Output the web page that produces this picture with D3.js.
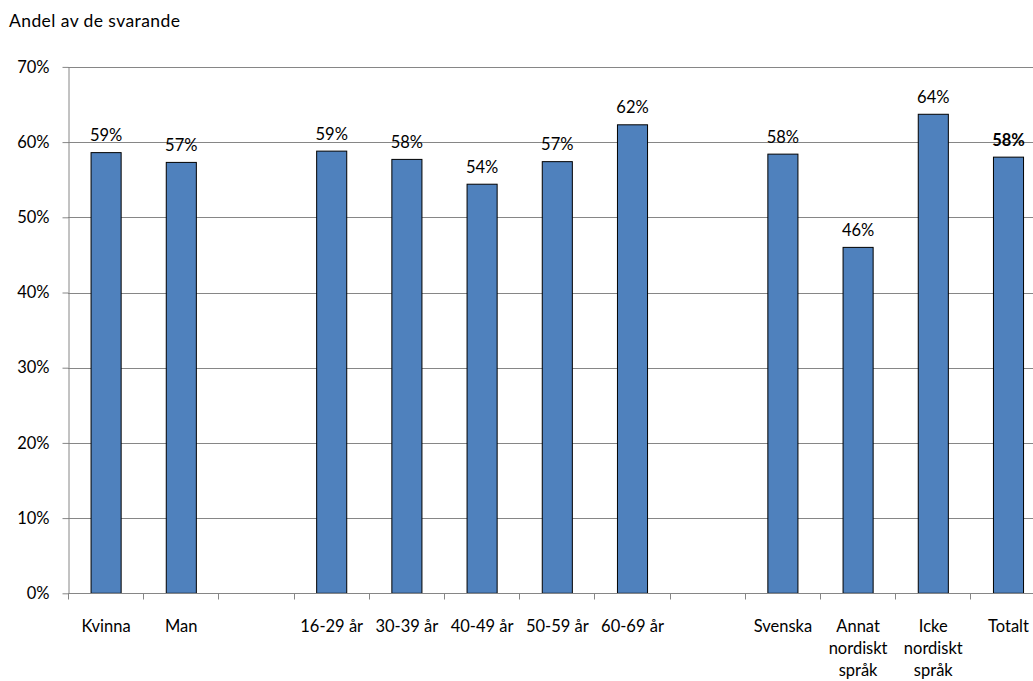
<!DOCTYPE html>
<html>
<head>
<meta charset="utf-8">
<script src="https://cdn.jsdelivr.net/npm/d3@7"></script>
<style>
  html, body { margin: 0; padding: 0; background: #fff; }
  svg { display: block; font-family: Lato, "Open Sans", sans-serif; }
</style>
</head>
<body>
<svg id="chart" width="1033" height="681"></svg>
<script>
const categories = ["Kvinna", "Man", "", "16-29 år", "30-39 år", "40-49 år", "50-59 år", "60-69 år", "", "Svenska", "Annat nordiskt språk", "Icke nordiskt språk", "Totalt"];
const values = [58.6, 57.3, null, 58.8, 57.7, 54.4, 57.4, 62.3, null, 58.4, 46.0, 63.7, 58.0];
const boldLabels = [false, false, false, false, false, false, false, false, false, false, false, false, true];
const yTicks = [0, 10, 20, 30, 40, 50, 60, 70];
const yTitle = "Andel av de svarande";

(function () {
const svg = d3.select("#chart");
const mLeft = 68, mTop = 66.9, mBottom = 593.3;
const step = 75.2;
const mRight = mLeft + categories.length * step;

const x = d3.scaleBand()
  .domain(d3.range(categories.length))
  .range([mLeft, mRight])
  .paddingInner(0.6)
  .paddingOuter(0.3);

const y = d3.scaleLinear().domain([0, 70]).range([mBottom, mTop]);

const gridColor = "#868686";

// gridlines
svg.append("g").selectAll("line")
  .data(yTicks.filter(t => t > 0))
  .join("line")
  .attr("x1", mLeft).attr("x2", mRight)
  .attr("y1", d => Math.round(y(d)) + 0.5).attr("y2", d => Math.round(y(d)) + 0.5)
  .attr("stroke", gridColor).attr("stroke-width", 1);

// y axis
const yAxis = svg.append("g")
  .attr("transform", `translate(${mLeft + 0.5},0)`)
  .call(d3.axisLeft(y).tickValues(yTicks).tickFormat(d => d + "%").tickSize(6).tickSizeOuter(0).tickPadding(13));
yAxis.select(".domain").attr("stroke", gridColor);
yAxis.selectAll(".tick line").attr("stroke", gridColor);
yAxis.selectAll(".tick text").attr("font-size", 16.5).attr("fill", "#000")
  .attr("font-family", "Lato, sans-serif");

// bars
svg.append("g").selectAll("rect")
  .data(values.map((v, i) => ({ v, i })).filter(d => d.v !== null))
  .join("rect")
  .attr("x", d => x(d.i) + 0.5)
  .attr("y", d => y(d.v))
  .attr("width", x.bandwidth())
  .attr("height", d => y(0) - y(d.v))
  .attr("fill", "#4F81BD")
  .attr("stroke", "#000")
  .attr("stroke-width", 1);

// x axis line and ticks
const xb = Math.round(y(0)) + 0.5;
svg.append("line")
  .attr("x1", mLeft).attr("x2", mRight).attr("y1", xb).attr("y2", xb)
  .attr("stroke", gridColor);
svg.append("g").selectAll("line")
  .data(d3.range(categories.length + 1))
  .join("line")
  .attr("x1", i => Math.round(mLeft + i * x.step()) + 0.5)
  .attr("x2", i => Math.round(mLeft + i * x.step()) + 0.5)
  .attr("y1", xb).attr("y2", xb + 6)
  .attr("stroke", gridColor);

// value labels
svg.append("g").selectAll("text")
  .data(values.map((v, i) => ({ v, i })).filter(d => d.v !== null))
  .join("text")
  .attr("x", d => x(d.i) + x.bandwidth() / 2 + 0.5)
  .attr("y", d => y(d.v) - 11.5)
  .attr("text-anchor", "middle")
  .attr("font-size", 16.5)
  .attr("font-weight", d => boldLabels[d.i] ? "bold" : "normal")
  .text(d => Math.round(d.v) + "%");

// category labels with wrapping
const labelG = svg.append("g");
categories.forEach((c, i) => {
  if (!c) return;
  const cx = x(i) + x.bandwidth() / 2 + 0.5;
  const t = labelG.append("text")
    .attr("x", cx).attr("y", 632)
    .attr("text-anchor", "middle")
    .attr("font-size", 16.5);
  const words = c.split(" ");
  let line = [];
  let lineNo = 0;
  let tspan = t.append("tspan").attr("x", cx).attr("y", 632);
  words.forEach(w => {
    line.push(w);
    tspan.text(line.join(" "));
    if (tspan.node().getComputedTextLength() > 72 && line.length > 1) {
      line.pop();
      tspan.text(line.join(" "));
      line = [w];
      lineNo++;
      tspan = t.append("tspan").attr("x", cx).attr("y", 632 + lineNo * 22).text(w);
    }
  });
});

// title
svg.append("text")
  .attr("x", 9).attr("y", 27)
  .attr("font-size", 17.5)
  .attr("textLength", 171)
  .attr("lengthAdjust", "spacing")
  .text(yTitle);
})();
</script>
</body>
</html>
